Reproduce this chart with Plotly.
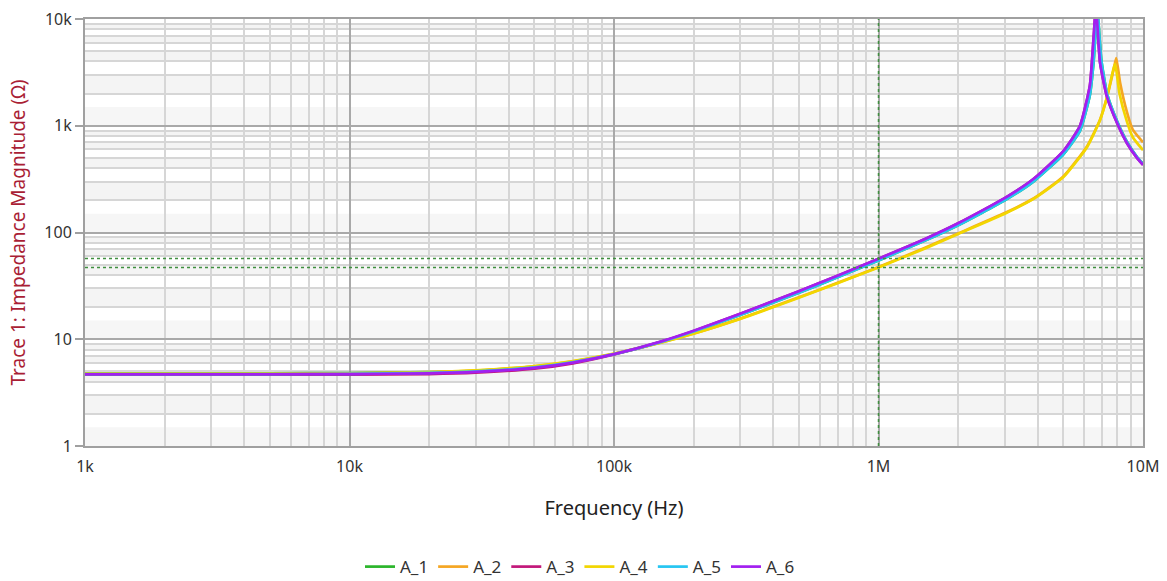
import plotly.graph_objects as go

# ---- data ----
series_names = ["A_1", "A_2", "A_3", "A_4", "A_5", "A_6"]
series_colors = ["#2bb52b", "#f5a623", "#c2187a", "#f2d600", "#26c6f2", "#a21ff0"]

# A_6 (purple)
f_a6 = [1e3, 2e3, 5e3, 1e4, 2e4, 3e4, 5e4, 7e4, 1e5, 1.5e5, 2e5, 3e5, 5e5, 7e5, 1e6, 1.5e6, 2e6,
        3e6, 3.84e6, 5e6, 5.78e6, 6.3e6, 6.5e6, 6.64e6, 6.88e6, 7.31e6, 7.98e6, 8.69e6, 9.49e6, 1e7]
z_a6 = [4.70, 4.70, 4.70, 4.72, 4.80, 4.95, 5.40, 6.05, 7.25, 9.5, 12.0, 17.3, 28.2, 39.4, 56.8, 87, 122,
        210, 315, 580, 1000, 2400, 6500, 13000, 3900, 1860, 1060, 690, 500, 430]

# A_3 (magenta) - mostly hidden under A_6
f_a3 = [1e3, 2e3, 5e3, 1e4, 2e4, 3e4, 5e4, 7e4, 1e5, 1.5e5, 2e5, 3e5, 5e5, 7e5, 1e6, 1.5e6, 2e6,
        3e6, 3.84e6, 5e6, 5.78e6, 6.3e6, 6.5e6, 6.64e6, 6.88e6, 7.31e6, 7.98e6, 8.69e6, 9.49e6, 1e7]
z_a3 = [4.66, 4.66, 4.66, 4.67, 4.72, 4.86, 5.30, 5.95, 7.20, 9.45, 11.95, 17.3, 28.2, 39.4, 56.8, 87, 122,
        210, 315, 580, 1000, 2400, 6500, 13000, 3900, 1860, 1060, 690, 500, 430]

# A_5 (cyan)
f_a5 = [1e3, 2e3, 5e3, 1e4, 2e4, 3e4, 5e4, 7e4, 1e5, 1.5e5, 2e5, 3e5, 5e5, 7e5, 1e6, 1.5e6, 2e6,
        3e6, 3.84e6, 5e6, 5.78e6, 6.3e6, 6.5e6, 6.72e6, 6.95e6, 7.31e6, 7.98e6, 8.69e6, 9.49e6, 1e7]
z_a5 = [4.72, 4.72, 4.72, 4.74, 4.85, 5.00, 5.45, 6.10, 7.25, 9.4, 11.8, 16.9, 27.3, 38.0, 54.8, 84, 117,
        200, 298, 540, 900, 1950, 3900, 12000, 4200, 2000, 1100, 710, 510, 440]

# A_1 (green) - mostly hidden under A_5
f_a1 = [1e3, 2e3, 5e3, 1e4, 2e4, 3e4, 5e4, 7e4, 1e5, 1.5e5, 2e5, 3e5, 5e5, 7e5, 1e6, 1.5e6, 2e6,
        3e6, 3.84e6, 5e6, 5.78e6, 6.3e6, 6.5e6, 6.72e6, 6.95e6, 7.31e6, 7.98e6, 8.69e6, 9.49e6, 1e7]
z_a1 = [4.80, 4.80, 4.80, 4.82, 4.92, 5.05, 5.50, 6.12, 7.25, 9.4, 11.8, 16.9, 27.3, 38.0, 54.8, 84, 117,
        200, 298, 540, 900, 1950, 3900, 12000, 4200, 2000, 1100, 710, 510, 440]

# A_4 (yellow)
f_a4 = [1e3, 2e3, 5e3, 1e4, 2e4, 3e4, 5e4, 7e4, 1e5, 1.5e5, 2e5, 3e5, 5e5, 7e5, 1e6, 1.5e6, 2e6,
        3e6, 3.84e6, 5e6, 6.14e6, 6.88e6, 7.31e6, 7.73e6, 7.85e6, 8.15e6, 8.69e6, 9.15e6, 1e7]
z_a4 = [4.76, 4.76, 4.76, 4.78, 4.92, 5.12, 5.62, 6.25, 7.35, 9.3, 11.3, 15.5, 24.5, 33.5, 47, 71, 97,
        150, 205, 330, 630, 1130, 1860, 3400, 3800, 2000, 1100, 780, 590]

# A_2 (orange)
f_a2 = [1e3, 2e3, 5e3, 1e4, 2e4, 3e4, 5e4, 7e4, 1e5, 1.5e5, 2e5, 3e5, 5e5, 7e5, 1e6, 1.5e6, 2e6,
        3e6, 3.84e6, 5e6, 6.14e6, 6.88e6, 7.31e6, 7.73e6, 7.92e6, 8.2e6, 8.69e6, 9.15e6, 1e7]
z_a2 = [4.74, 4.74, 4.74, 4.76, 4.88, 5.08, 5.58, 6.22, 7.32, 9.3, 11.3, 15.6, 24.7, 33.8, 47.5, 72, 98,
        152, 207, 335, 640, 1140, 1850, 3300, 4300, 2500, 1350, 920, 700]

series_f = [f_a1, f_a2, f_a3, f_a4, f_a5, f_a6]
series_z = [z_a1, z_a2, z_a3, z_a4, z_a5, z_a6]

# marker (cursor) lines
marker_freq = 1e6
marker_levels = [57, 47]

x_tickvals = [1e3, 1e4, 1e5, 1e6, 1e7]
x_ticktext = ["1k", "10k", "100k", "1M", "10M"]
y_tickvals = [1, 10, 100, 1000, 10000]
y_ticktext = ["1", "10", "100", "1k", "10k"]

fig = go.Figure()
for name, color, fx, zy in zip(series_names, series_colors, series_f, series_z):
    fig.add_trace(go.Scatter(x=fx, y=zy, mode="lines", name=name,
                             line=dict(color=color, width=2.7, shape="spline", smoothing=0.5)))

# light background bands between minor gridlines
shapes = []
for dec in range(4):
    base = 10 ** dec
    for k in (2, 4, 6, 8):
        shapes.append(dict(type="rect", xref="paper", yref="y", x0=0, x1=1,
                           y0=k * base, y1=(k + 1) * base, fillcolor="#f4f4f4",
                           line=dict(width=0), layer="below"))
    shapes.append(dict(type="rect", xref="paper", yref="y", x0=0, x1=1,
                       y0=base, y1=1.5 * base, fillcolor="#f6f6f6",
                       line=dict(width=0), layer="below"))
# marker lines
for lvl in marker_levels:
    shapes.append(dict(type="line", xref="paper", yref="y", x0=0, x1=1, y0=lvl, y1=lvl,
                       line=dict(color="#3f8f3f", width=1.5, dash="dot"), layer="above"))
shapes.append(dict(type="line", xref="x", yref="paper", x0=marker_freq, x1=marker_freq, y0=0, y1=1,
                   line=dict(color="#3f8f3f", width=1.5, dash="dot"), layer="above"))

font_family = "Noto Sans, Open Sans, DejaVu Sans, sans-serif"

fig.update_layout(
    width=1167, height=581,
    margin=dict(l=85, r=24, t=19, b=135),
    paper_bgcolor="white", plot_bgcolor="white",
    font=dict(family=font_family, size=15, color="#333333"),
    shapes=shapes,
    showlegend=True,
    legend=dict(orientation="h", xref="container", yref="container", x=0.497, y=0.024,
                xanchor="center", yanchor="middle", font=dict(size=17, color="#333333"),
                itemwidth=30, tracegroupgap=0),
    xaxis=dict(type="log", range=[3, 7], tickvals=x_tickvals, ticktext=x_ticktext,
               showgrid=True, gridcolor="#a9a9a9", gridwidth=2,
               minor=dict(showgrid=True, gridcolor="#d6d6d6", gridwidth=2, dtick="D1"),
               showline=True, linecolor="#a0a0a0", linewidth=2, mirror=True,
               ticks="", zeroline=False, automargin=False, ticklabelstandoff=5,
               title=dict(text="Frequency (Hz)", font=dict(size=20, color="#222222"), standoff=25),
               tickfont=dict(size=16, color="#333333")),
    yaxis=dict(type="log", range=[0, 4], tickvals=y_tickvals, ticktext=y_ticktext,
               showgrid=True, gridcolor="#a9a9a9", gridwidth=2,
               minor=dict(showgrid=True, gridcolor="#d6d6d6", gridwidth=2, dtick="D1"),
               showline=True, linecolor="#a0a0a0", linewidth=2, mirror=True,
               ticks="outside", ticklen=8, tickcolor="#a0a0a0", tickwidth=2, zeroline=False,
               automargin=False,
               title=dict(text="Trace 1: Impedance Magnitude (Ω)", font=dict(size=19, color="#a91e35"),
                          standoff=14),
               tickfont=dict(size=16, color="#333333")),
)

fig.write_html("out.html", include_plotlyjs=True, config={"displayModeBar": False},
               post_script="document.body.style.margin='0';document.body.style.padding='0';")
